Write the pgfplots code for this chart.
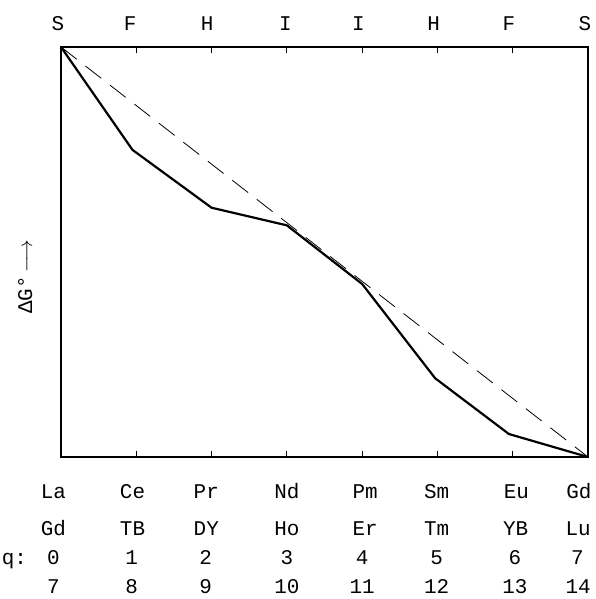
\documentclass[border=0pt]{standalone}
\usepackage{fontspec}
\setmainfont{Liberation Mono}
\usepackage{pgfplots}
\pgfplotsset{compat=1.18}
\tikzset{lbl/.style={anchor=base, font=\fontsize{21}{25}\selectfont}}

\begin{document}
\begin{tikzpicture}[font=\fontsize{21}{25}\selectfont]
\useasboundingbox (-61bp,-142bp) rectangle (535bp,457bp);
\begin{axis}[
  at={(0,0)}, anchor=south west,
  scale only axis, width=527bp, height=410bp,
  xmin=0, xmax=7, ymin=0, ymax=100,
  axis line style={line width=1.3pt},
  ytick=\empty,
  xtick={1,2,3,4,5,6}, xticklabels={},
  xtick pos=both, tick align=inside,
  major tick length=6bp,
  tick style={line width=0.8pt, black},
  clip=false,
]
% reference line
\addplot[black, line width=0.8pt, dash pattern=on 20bp off 11bp] coordinates {(0,100) (7,0)};
% Delta G curve
\addplot[black, line width=2.2pt, line join=round] coordinates {
  (0,100) (0.95,74.9) (2,60.8) (3,56.5) (4,42.2) (4.97,19.2) (5.95,5.6) (7,0)
};

% y label
\node[rotate=90, anchor=center, font=\fontsize{21}{25}\selectfont] at (rel axis cs:-0.068,0.44) {ΔG°\,$\longrightarrow$};

% top labels
\node[lbl] at ([yshift=16bp]axis cs:-0.04,100) {S};
\node[lbl] at ([yshift=16bp]axis cs:0.92,100) {F};
\node[lbl] at ([yshift=16bp]axis cs:1.94,100) {H};
\node[lbl] at ([yshift=16bp]axis cs:2.98,100) {I};
\node[lbl] at ([yshift=16bp]axis cs:3.95,100) {I};
\node[lbl] at ([yshift=16bp]axis cs:4.95,100) {H};
\node[lbl] at ([yshift=16bp]axis cs:5.95,100) {F};
\node[lbl] at ([yshift=16bp]axis cs:6.96,100) {S};

% bottom rows
\node[lbl] at ([yshift=-41bp]axis cs:-0.1,0) {La};
\node[lbl] at ([yshift=-41bp]axis cs:0.95,0) {Ce};
\node[lbl] at ([yshift=-41bp]axis cs:1.93,0) {Pr};
\node[lbl] at ([yshift=-41bp]axis cs:3.0,0) {Nd};
\node[lbl] at ([yshift=-41bp]axis cs:4.04,0) {Pm};
\node[lbl] at ([yshift=-41bp]axis cs:4.99,0) {Sm};
\node[lbl] at ([yshift=-41bp]axis cs:6.05,0) {Eu};
\node[lbl] at ([yshift=-41bp]axis cs:6.88,0) {Gd};

\node[lbl] at ([yshift=-78bp]axis cs:-0.1,0) {Gd};
\node[lbl] at ([yshift=-78bp]axis cs:0.95,0) {TB};
\node[lbl] at ([yshift=-78bp]axis cs:1.93,0) {DY};
\node[lbl] at ([yshift=-78bp]axis cs:3.0,0) {Ho};
\node[lbl] at ([yshift=-78bp]axis cs:4.04,0) {Er};
\node[lbl] at ([yshift=-78bp]axis cs:4.99,0) {Tm};
\node[lbl] at ([yshift=-78bp]axis cs:6.04,0) {YB};
\node[lbl] at ([yshift=-78bp]axis cs:6.87,0) {Lu};

\node[lbl] at ([yshift=-107bp]axis cs:-0.62,0) {q:};
\node[lbl] at ([yshift=-107bp]axis cs:-0.1,0) {0};
\node[lbl] at ([yshift=-107bp]axis cs:0.94,0) {1};
\node[lbl] at ([yshift=-107bp]axis cs:1.92,0) {2};
\node[lbl] at ([yshift=-107bp]axis cs:3.0,0) {3};
\node[lbl] at ([yshift=-107bp]axis cs:4.0,0) {4};
\node[lbl] at ([yshift=-107bp]axis cs:4.99,0) {5};
\node[lbl] at ([yshift=-107bp]axis cs:6.03,0) {6};
\node[lbl] at ([yshift=-107bp]axis cs:6.86,0) {7};

\node[lbl] at ([yshift=-136bp]axis cs:-0.1,0) {7};
\node[lbl] at ([yshift=-136bp]axis cs:0.94,0) {8};
\node[lbl] at ([yshift=-136bp]axis cs:1.92,0) {9};
\node[lbl] at ([yshift=-136bp]axis cs:3.0,0) {10};
\node[lbl] at ([yshift=-136bp]axis cs:4.0,0) {11};
\node[lbl] at ([yshift=-136bp]axis cs:4.99,0) {12};
\node[lbl] at ([yshift=-136bp]axis cs:6.03,0) {13};
\node[lbl] at ([yshift=-136bp]axis cs:6.87,0) {14};
\end{axis}
\end{tikzpicture}
\end{document}
